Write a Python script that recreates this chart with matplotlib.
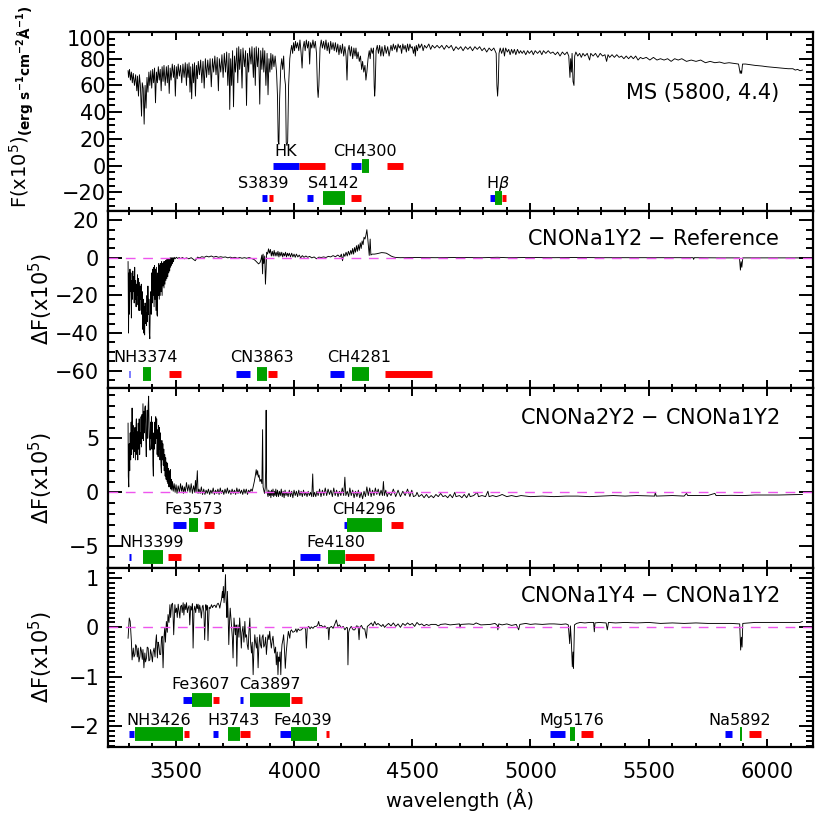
import matplotlib
matplotlib.use("Agg")
import matplotlib.pyplot as plt
from matplotlib.ticker import MultipleLocator
from matplotlib.transforms import ScaledTranslation

# ---------------- data ----------------
# top panel: MS (5800, 4.4) model flux, (wavelength, F x1e5)
ms_spec = [
    (3298, 71), (3300, 66), (3304, 72), (3308, 64), (3312, 70), (3316, 62), (3320, 69), (3325, 60),
    (3330, 68), (3335, 56), (3338, 67), (3342, 52), (3346, 68), (3350, 60), (3355, 37), (3358, 62),
    (3362, 58), (3366, 31), (3370, 60), (3374, 43), (3378, 66), (3382, 55), (3386, 70), (3390, 60),
    (3394, 71), (3398, 58), (3402, 72), (3406, 62), (3410, 73), (3414, 47), (3418, 70), (3422, 62),
    (3426, 74), (3430, 64), (3434, 72), (3438, 56), (3442, 74), (3446, 63), (3450, 75), (3455, 60),
    (3460, 74), (3464, 62), (3468, 75), (3472, 54), (3476, 73), (3480, 64), (3485, 76), (3490, 66),
    (3494, 75), (3498, 52), (3502, 74), (3506, 65), (3510, 76), (3515, 67), (3520, 75), (3525, 62),
    (3530, 76), (3535, 66), (3540, 77), (3545, 60), (3548, 76), (3552, 66), (3556, 77), (3560, 55),
    (3563, 74), (3567, 50), (3571, 76), (3575, 62), (3579, 77), (3583, 52), (3587, 75), (3591, 65),
    (3595, 78), (3600, 68), (3605, 79), (3610, 62), (3615, 78), (3620, 58), (3625, 80), (3630, 66),
    (3635, 79), (3640, 68), (3645, 80), (3650, 59), (3655, 80), (3660, 70), (3665, 82), (3670, 68),
    (3675, 81), (3680, 56), (3684, 80), (3690, 70), (3695, 83), (3700, 66), (3705, 84), (3710, 70),
    (3715, 85), (3720, 60), (3725, 84), (3728, 42), (3732, 80), (3736, 60), (3740, 86), (3744, 44),
    (3748, 82), (3752, 70), (3758, 88), (3762, 62), (3766, 89), (3770, 72), (3775, 87), (3780, 58),
    (3784, 88), (3790, 74), (3795, 86), (3799, 45), (3803, 84), (3808, 70), (3812, 88), (3818, 76),
    (3822, 89), (3828, 66), (3832, 88), (3836, 60), (3840, 89), (3845, 74), (3850, 88), (3855, 46),
    (3859, 86), (3864, 72), (3868, 88), (3872, 70), (3876, 86), (3881, 60), (3886, 84), (3890, 53),
    (3894, 80), (3898, 70), (3902, 84), (3906, 72), (3910, 83), (3915, 74), (3920, 82), (3926, 70),
    (3930, 52), (3933, 18), (3936, 16), (3939, 50), (3944, 74), (3948, 80), (3952, 72), (3956, 82),
    (3960, 66), (3964, 60), (3967, 17), (3970, 15), (3973, 18), (3977, 60), (3982, 80), (3986, 86),
    (3990, 90), (3994, 84), (3998, 92), (4002, 86), (4006, 93), (4010, 88), (4015, 92), (4020, 86),
    (4025, 94), (4030, 84), (4034, 73), (4038, 88), (4043, 93), (4047, 86), (4052, 94), (4057, 88),
    (4062, 93), (4066, 76), (4070, 92), (4075, 88), (4080, 94), (4085, 88), (4090, 93), (4095, 84),
    (4099, 58), (4102, 51), (4105, 60), (4110, 88), (4115, 94), (4120, 88), (4125, 93), (4130, 87),
    (4135, 94), (4140, 86), (4145, 92), (4150, 84), (4155, 93), (4160, 87), (4165, 92), (4170, 86),
    (4175, 92), (4180, 85), (4185, 91), (4190, 83), (4195, 90), (4200, 84), (4205, 91), (4210, 82),
    (4215, 89), (4220, 82), (4224, 64), (4228, 86), (4233, 90), (4238, 82), (4243, 89), (4248, 80),
    (4253, 88), (4258, 82), (4262, 88), (4266, 80), (4271, 85), (4276, 78), (4281, 82), (4286, 72),
    (4290, 78), (4295, 70), (4300, 75), (4304, 64), (4308, 70), (4313, 80), (4318, 86), (4322, 80),
    (4326, 88), (4331, 84), (4336, 88), (4339, 60), (4341, 52), (4343, 58), (4347, 86), (4352, 90),
    (4357, 84), (4362, 90), (4367, 82), (4372, 89), (4378, 82), (4384, 90), (4390, 84), (4396, 89),
    (4402, 82), (4410, 90), (4415, 86), (4420, 91), (4425, 87), (4430, 90), (4435, 85), (4440, 91),
    (4445, 88), (4450, 90), (4455, 84), (4460, 91), (4465, 87), (4470, 90), (4475, 85), (4480, 91),
    (4485, 86), (4490, 91), (4495, 88), (4500, 89), (4505, 84), (4510, 89), (4513, 82), (4517, 90),
    (4522, 86), (4527, 91), (4532, 88), (4540, 91), (4546, 86), (4552, 90), (4560, 88), (4570, 91),
    (4578, 87), (4585, 90), (4595, 88), (4605, 90), (4615, 88), (4625, 90), (4635, 87), (4645, 90),
    (4655, 88), (4665, 90), (4675, 86), (4685, 89), (4695, 87), (4705, 89), (4715, 86), (4725, 89),
    (4735, 87), (4745, 89), (4755, 86), (4765, 89), (4775, 87), (4785, 89), (4795, 86), (4805, 88),
    (4815, 85), (4825, 88), (4835, 86), (4845, 88), (4855, 84), (4858, 60), (4861, 52), (4864, 62),
    (4867, 84), (4872, 88), (4878, 84), (4885, 88), (4890, 82), (4895, 88), (4902, 85), (4908, 87),
    (4914, 83), (4920, 87), (4926, 84), (4932, 87), (4938, 83), (4945, 87), (4952, 84), (4958, 86),
    (4965, 84), (4972, 86), (4980, 83), (4988, 86), (4995, 84), (5005, 86), (5012, 83), (5020, 86),
    (5030, 84), (5040, 86), (5048, 83), (5055, 86), (5065, 84), (5075, 86), (5085, 84), (5095, 85),
    (5105, 83), (5115, 85), (5125, 82), (5135, 85), (5145, 83), (5155, 85), (5162, 82), (5167, 66),
    (5170, 80), (5173, 70), (5176, 84), (5180, 63), (5184, 60), (5187, 82), (5192, 85), (5200, 82),
    (5208, 84), (5215, 81), (5222, 84), (5230, 82), (5240, 84), (5250, 79), (5255, 84), (5265, 82),
    (5275, 84), (5285, 81), (5295, 84), (5305, 82), (5315, 83), (5322, 78), (5328, 83), (5335, 81),
    (5345, 83), (5355, 81), (5365, 83), (5375, 81), (5385, 82), (5395, 80), (5405, 82), (5415, 80),
    (5425, 82), (5435, 80), (5445, 82), (5455, 79), (5465, 81), (5475, 80), (5490, 81), (5505, 79),
    (5520, 81), (5535, 79), (5550, 80), (5565, 79), (5580, 80), (5595, 78), (5610, 80), (5625, 79),
    (5640, 80), (5660, 78), (5680, 79), (5700, 78), (5720, 79), (5740, 77), (5760, 78), (5780, 77),
    (5800, 77.5), (5820, 76.5), (5840, 77), (5860, 76.5), (5880, 76), (5887, 69), (5890, 71),
    (5893, 69), (5897, 76), (5910, 76), (5930, 75.5), (5950, 75), (5980, 74.5), (6000, 74),
    (6030, 73.5), (6060, 73), (6090, 72.5), (6110, 72.5), (6120, 71.5), (6130, 72), (6140, 71),
    (6150, 71.5),
]

# CNONa1Y2 - Reference
d1_spec = [
    (3298, -2), (3300, -40), (3302, -8), (3304, -30), (3306, -6), (3308, -18), (3310, -8), (3312, -32),
    (3314, -12), (3316, -22), (3318, -7), (3320, -18), (3322, -10), (3324, -24), (3326, -5), (3328, -22),
    (3330, -12), (3332, -26), (3334, -14), (3336, -20), (3338, -9), (3340, -25), (3342, -11), (3344, -28),
    (3346, -13), (3348, -28), (3350, -15), (3352, -22), (3354, -14), (3356, -30), (3358, -18), (3360, -38),
    (3362, -22), (3364, -40), (3366, -26), (3368, -41), (3370, -24), (3372, -35), (3374, -29), (3376, -36),
    (3378, -20), (3380, -34), (3382, -15), (3384, -30), (3386, -22), (3388, -40), (3390, -43), (3392, -25),
    (3394, -18), (3396, -30), (3398, -8), (3400, -24), (3402, -6), (3404, -20), (3406, -5), (3408, -26),
    (3410, -4), (3412, -22), (3414, -6), (3416, -28), (3418, -5), (3420, -30), (3422, -31), (3424, -8),
    (3426, -20), (3428, -3), (3430, -22), (3432, -4), (3434, -20), (3436, -3), (3438, -18), (3440, -2),
    (3442, -20), (3444, -3), (3446, -15), (3448, -2), (3450, -16), (3452, -2), (3454, -14), (3456, -1.5),
    (3458, -12), (3460, -1), (3462, -11), (3464, -1), (3466, -10), (3468, -0.5), (3470, -8), (3472, -0.5),
    (3474, -7), (3476, 0), (3478, -5), (3480, 0), (3482, -4), (3484, 0), (3486, -3), (3488, 0),
    (3490, -2), (3493, 0.3), (3497, -0.5), (3502, 0.3), (3508, -0.3), (3514, 0.2), (3520, -0.4),
    (3528, 0.2), (3536, -0.5), (3545, 0), (3555, -0.5), (3565, 0.1), (3575, -0.8), (3582, -1.5),
    (3587, -0.5), (3592, 0.4), (3600, 0), (3610, 0.6), (3620, 0.3), (3630, 0.9), (3640, 0.5),
    (3650, 1), (3660, 0.4), (3670, 0.8), (3680, 0.3), (3690, 0.6), (3700, 0.3), (3710, 0.5),
    (3720, 0), (3730, 0.4), (3740, 0), (3750, 0.3), (3760, -0.2), (3770, 0.2), (3780, -0.2),
    (3790, 0.1), (3800, -0.2), (3810, 0.2), (3820, -0.3), (3830, -0.8), (3836, -1.4), (3843, -2.3),
    (3850, -3.2), (3856, -2.5), (3860, -1), (3864, 1.5), (3867, -8.5), (3869, 2), (3872, -3),
    (3876, 1), (3879, -14), (3882, -6), (3884, 3), (3888, 2), (3892, 4.8), (3896, 2.5), (3900, 4.5),
    (3904, 1), (3908, 3.5), (3912, 1), (3916, 4), (3920, 1), (3924, 3), (3928, 1), (3932, 3.5),
    (3936, 0.5), (3940, 3), (3944, 1), (3948, 3), (3952, 0.5), (3956, 2.5), (3960, 1), (3964, 3),
    (3968, 0.5), (3972, 2.5), (3976, 1), (3980, 2.5), (3985, 0.5), (3990, 2.5), (3995, 0.5),
    (4000, 2), (4005, 0.3), (4010, 2), (4016, 0.5), (4022, 1.5), (4028, 0), (4035, 1.2), (4042, 0.3),
    (4050, 1), (4058, 0.3), (4066, 0.8), (4075, 0), (4085, 0.5), (4095, -0.5), (4105, 0.4),
    (4115, 0.2), (4125, 0.5), (4135, 0.2), (4145, 0.8), (4155, 0.5), (4165, 1.2), (4175, 0.6),
    (4185, 1.5), (4195, 0.5), (4200, 2), (4205, -1.5), (4210, 2.2), (4215, 0.8), (4220, 3),
    (4225, 1), (4230, 3.5), (4235, 1.5), (4240, 4), (4244, 2), (4248, 5), (4252, 2), (4256, 5.5),
    (4260, 3), (4264, 6.5), (4268, 3.5), (4272, 7), (4276, 4), (4280, 8), (4284, 5), (4288, 9),
    (4292, 7), (4296, 11), (4300, 10), (4304, 12), (4308, 15), (4312, 10), (4318, 1.3), (4322, 10),
    (4325, 1.5), (4330, 2), (4340, 2), (4350, 2.2), (4360, 2.5), (4370, 2.8), (4380, 2.7),
    (4390, 2.5), (4400, 1.8), (4410, 1), (4420, 0.5), (4430, 0.2), (4450, 0.1), (4500, 0.2),
    (4600, 0.1), (4700, 0.2), (4800, 0.1), (4860, 0.3), (4900, 0.1), (5000, 0.2), (5100, 0.1),
    (5200, 0.2), (5300, 0.1), (5400, 0.1), (5500, 0.1), (5600, 0.1), (5688, 0.1), (5690, -0.8),
    (5693, 0.1), (5800, 0.0), (5884, 0), (5888, -6.5), (5891, -2), (5894, -5), (5898, 0),
    (6000, 0.0), (6150, 0),
]

# CNONa2Y2 - CNONa1Y2
d2_spec = [
    (3298, 6.4), (3299, 1.5), (3301, 0.5), (3303, 4.5), (3305, 2.0), (3307, 5.5), (3309, 3.0),
    (3311, 6.5), (3313, 3.5), (3315, 7.8), (3317, 4.0), (3319, 6.2), (3321, 3.2), (3323, 5.5),
    (3325, 3.8), (3327, 6.0), (3329, 3.0), (3331, 5.8), (3333, 6.8), (3335, 3.5), (3337, 5.6),
    (3339, 3.0), (3341, 6.4), (3343, 4.0), (3345, 6.8), (3347, 3.5), (3349, 5.5), (3351, 4.5),
    (3353, 7.0), (3355, 4.2), (3357, 7.2), (3359, 5.0), (3361, 8.2), (3363, 4.8), (3365, 7.5),
    (3367, 5.5), (3369, 7.8), (3371, 8.0), (3373, 4.8), (3375, 3.3), (3377, 6.5), (3379, 7.6),
    (3381, 5.0), (3383, 8.0), (3385, 8.9), (3387, 6.0), (3389, 4.5), (3391, 3.9), (3393, 6.5),
    (3395, 5.0), (3397, 7.0), (3399, 4.0), (3401, 6.5), (3403, 2.5), (3405, 1.5), (3407, 5.5),
    (3409, 4.0), (3411, 6.5), (3413, 4.5), (3415, 7.0), (3417, 5.0), (3419, 6.8), (3421, 3.5),
    (3423, 5.8), (3425, 3.3), (3427, 6.2), (3429, 4.0), (3431, 6.0), (3433, 3.0), (3435, 5.5),
    (3437, 2.5), (3439, 1.8), (3441, 4.8), (3443, 3.0), (3445, 4.5), (3447, 2.5), (3449, 4.0),
    (3451, 2.0), (3453, 3.5), (3455, 1.5), (3457, 3.2), (3459, 1.2), (3461, 2.8), (3463, 1.0),
    (3465, 2.7), (3467, 0.8), (3469, 2.2), (3471, 0.5), (3473, 2.0), (3475, 0.5), (3477, 2.1),
    (3479, 0.3), (3481, 1.2), (3483, 0.2), (3486, 1.0), (3489, 0.1), (3493, 0.8), (3497, 0.0),
    (3501, 0.7), (3505, -0.1), (3510, 0.6), (3515, 0.0), (3520, 0.8), (3524, 0.1), (3528, 0.6),
    (3532, -0.1), (3536, 0.5), (3540, 0.0), (3545, 0.9), (3550, 0.1), (3555, 0.7), (3560, 0.0),
    (3565, 0.8), (3570, -0.1), (3575, 0.6), (3580, 0.0), (3583, 1.1), (3586, 0.0), (3591, 2.0),
    (3594, -0.1), (3598, 0.3), (3603, -0.1), (3608, 0.5), (3613, -0.2), (3618, 0.3), (3623, -0.2),
    (3628, 0.2), (3633, -0.1), (3638, 0.3), (3643, -0.2), (3648, 0.2), (3653, -0.1), (3658, 0.4),
    (3663, -0.2), (3668, 0.2), (3673, -0.1), (3678, 0.3), (3683, -0.2), (3688, 0.4), (3693, -0.1),
    (3698, 0.2), (3703, -0.2), (3708, 0.3), (3713, -0.1), (3718, 0.4), (3723, -0.1), (3728, 0.2),
    (3733, -0.2), (3738, 0.3), (3743, -0.1), (3748, 0.2), (3753, -0.2), (3758, 0.4), (3763, -0.1),
    (3768, 0.3), (3773, -0.1), (3778, 0.2), (3783, -0.2), (3788, 0.3), (3793, -0.1), (3798, 0.3),
    (3803, -0.2), (3808, 0.2), (3813, 0.0), (3818, 0.3), (3823, 0.1), (3827, 0.5), (3832, 1.0),
    (3836, 1.5), (3840, 2.1), (3843, 1.6), (3846, 2.0), (3849, 1.4), (3852, 1.6), (3856, 1.0),
    (3860, 1.2), (3864, 0.8), (3867, 5.8), (3869, 0.5), (3872, 0.2), (3875, -0.1), (3878, 0.4),
    (3880, 2.0), (3882, 7.6), (3884, 0.5), (3887, -0.1), (3890, -0.4), (3893, 0.2), (3896, -0.3),
    (3899, 0.1), (3902, -0.5), (3905, 0.2), (3908, -0.3), (3911, 0.3), (3914, -0.4), (3917, 0.1),
    (3920, -0.3), (3923, 0.3), (3926, -0.4), (3930, 0.2), (3934, -0.4), (3938, 0.1), (3942, -0.3),
    (3946, 0.3), (3950, -0.4), (3954, 0.1), (3958, -0.5), (3962, 0.2), (3966, -0.3), (3970, 0.0),
    (3975, -0.4), (3980, 0.2), (3985, -0.4), (3990, 0.1), (3995, -0.5), (4000, 0.2), (4005, -0.3),
    (4010, 0.1), (4015, -0.4), (4020, 0.2), (4025, -0.3), (4030, 0.1), (4035, -0.4), (4040, 0.2),
    (4045, -0.3), (4050, 0.0), (4055, -0.4), (4060, 0.1), (4065, -0.3), (4070, 0.0), (4075, -0.4),
    (4079, 1.7), (4082, -0.4), (4087, 0.0), (4092, -0.4), (4097, 0.1), (4102, -0.3), (4108, 0.3),
    (4114, -0.4), (4120, 0.2), (4126, -0.3), (4132, 0.4), (4138, -0.3), (4144, 0.3), (4150, -0.2),
    (4156, 0.2), (4162, -0.4), (4168, 0.4), (4174, -0.3), (4180, 0.2), (4186, -0.4), (4192, 0.1),
    (4198, -0.3), (4204, 0.4), (4210, -0.3), (4215, 1.4), (4219, -0.3), (4225, 0.1), (4231, -0.4),
    (4236, 0.4), (4242, -0.3), (4248, 0.2), (4254, -0.5), (4260, 0.1), (4266, -0.4), (4272, 0.2),
    (4278, -0.5), (4284, 0.0), (4290, -0.6), (4296, 0.1), (4302, -0.4), (4308, 0.5), (4314, -0.3),
    (4320, 0.4), (4326, -0.4), (4332, 0.2), (4338, -0.3), (4344, 0.4), (4350, -0.2), (4356, 0.3),
    (4362, -0.3), (4368, 0.2), (4374, -0.3), (4378, 1.0), (4382, -0.3), (4388, 0.2), (4394, -0.4),
    (4400, 0.0), (4410, -0.3), (4420, 0.3), (4430, -0.4), (4440, 0.2), (4450, -0.4), (4460, 0.1),
    (4470, -0.3), (4480, 0.3), (4490, -0.4), (4498, 0.2), (4505, -0.4), (4515, -0.3), (4520, 0.0),
    (4528, -0.4), (4540, -0.2), (4550, -0.5), (4560, -0.2), (4570, -0.5), (4580, -0.3),
    (4590, -0.5), (4600, -0.2), (4610, -0.4), (4620, -0.1), (4630, -0.4), (4640, -0.3),
    (4650, -0.5), (4660, -0.2), (4670, -0.5), (4680, 0.0), (4685, -0.4), (4700, -0.3),
    (4710, -0.5), (4720, -0.2), (4730, -0.5), (4740, -0.1), (4745, -0.4), (4760, -0.3),
    (4775, 0.0), (4780, -0.4), (4795, -0.3), (4810, -0.4), (4820, 0.1), (4825, -0.4),
    (4840, -0.3), (4855, -0.4), (4870, -0.3), (4880, -0.2), (4900, -0.4), (4920, -0.3),
    (4940, -0.4), (4960, -0.3), (5000, -0.4), (5050, -0.35), (5100, -0.4), (5150, -0.35),
    (5200, -0.35), (5250, -0.4), (5300, -0.35), (5350, -0.3), (5400, -0.35), (5450, -0.3),
    (5525, -0.35), (5528, 0.0), (5532, -0.35), (5600, -0.3), (5650, -0.35), (5660, -0.1),
    (5665, -0.3), (5750, -0.3), (5780, -0.1), (5785, -0.3), (5850, -0.28), (5900, -0.3),
    (5950, -0.25), (6050, -0.25), (6150, -0.2),
]

# CNONa1Y4 - CNONa1Y2
d3_spec = [
    (3298, -0.22), (3303, 0.19), (3307, 0.12), (3312, -0.28), (3315, -0.66), (3320, -0.42),
    (3323, -0.6), (3327, -0.55), (3330, -0.35), (3334, -0.39), (3337, -0.6), (3341, -0.42),
    (3344, -0.7), (3348, -0.59), (3351, -0.4), (3355, -0.49), (3358, -0.65), (3361, -0.45),
    (3365, -0.82), (3369, -0.52), (3372, -0.7), (3376, -0.62), (3379, -0.4), (3383, -0.42),
    (3386, -0.68), (3390, -0.66), (3393, -0.45), (3397, -0.55), (3401, -0.7), (3404, -0.5),
    (3408, -0.42), (3412, -0.6), (3415, -0.3), (3418, -0.15), (3422, -0.62), (3425, -0.3),
    (3428, -0.35), (3432, -0.55), (3436, -0.55), (3439, -0.25), (3442, -0.18), (3446, -0.82),
    (3450, -0.2), (3453, -0.01), (3456, -0.3), (3460, 0.12), (3464, -0.1), (3467, 0.26),
    (3471, 0.1), (3475, 0.46), (3478, 0.2), (3482, 0.46), (3486, 0.49), (3488, 0.3), (3491, -0.15),
    (3496, 0.46), (3499, 0.3), (3503, 0.39), (3506, 0.2), (3510, 0.47), (3513, 0.35), (3517, 0.19),
    (3520, 0.42), (3524, 0.45), (3527, 0.3), (3531, 0.5), (3534, 0.25), (3538, 0.47), (3542, 0.36),
    (3545, 0.5), (3549, 0.3), (3552, 0.39), (3556, 0.44), (3559, 0.05), (3563, 0.43), (3567, 0.35),
    (3570, 0.48), (3573, -0.42), (3577, 0.35), (3580, 0.43), (3584, 0.3), (3588, 0.47), (3591, 0.38),
    (3594, 0.47), (3598, 0.3), (3601, 0.45), (3605, 0.35), (3608, 0.19), (3612, 0.42), (3615, 0.45),
    (3619, 0.3), (3622, -0.25), (3627, 0.46), (3630, 0.35), (3633, 0.44), (3636, -0.27), (3641, 0.41),
    (3645, 0.38), (3651, 0.46), (3655, 0.4), (3660, 0.44), (3665, 0.45), (3670, 0.4), (3675, 0.47),
    (3679, 0.49), (3683, 0.45), (3686, 0.39), (3690, 0.5), (3693, 0.56), (3697, 0.73), (3699, 0.6),
    (3701, 0.83), (3704, 0.5), (3707, 0.7), (3710, 1.07), (3712, 0.6), (3714, 0.43), (3716, 0.2),
    (3718, 0.73), (3721, 0.3), (3724, -0.35), (3727, 0.1), (3730, 0.39), (3733, 0.2), (3735, 0.09),
    (3739, -0.2), (3742, -0.62), (3746, 0.19), (3749, 0.0), (3752, -0.15), (3755, 0.05), (3758, -0.79),
    (3761, -0.1), (3763, 0.05), (3767, -0.2), (3770, 0.19), (3774, -0.1), (3777, -0.42), (3780, -0.1),
    (3784, 0.02), (3788, -0.3), (3792, 0.12), (3795, -0.2), (3799, -0.15), (3802, -0.35), (3806, -0.45),
    (3809, -0.1), (3813, 0.19), (3816, -0.3), (3820, -0.52), (3823, -0.3), (3827, -0.96), (3830, -0.5),
    (3834, -0.15), (3837, -0.3), (3841, -0.42), (3844, -0.2), (3848, -0.82), (3851, -0.4), (3855, -0.15),
    (3858, -0.35), (3862, -0.42), (3865, -0.2), (3869, -0.15), (3872, -0.4), (3876, -0.35), (3880, -0.2),
    (3883, -0.55), (3887, -0.3), (3890, -0.15), (3894, -0.25), (3897, -0.08), (3901, -0.3), (3904, -0.42),
    (3908, -0.25), (3911, -0.18), (3915, -0.4), (3918, -0.52), (3922, -0.4), (3925, -0.76), (3929, -0.5),
    (3932, -0.96), (3935, -0.6), (3938, -0.69), (3941, -0.5), (3944, -0.96), (3947, -0.5), (3949, -0.35),
    (3953, -0.25), (3956, -0.15), (3960, -0.5), (3963, -0.83), (3967, -0.5), (3970, -0.35), (3973, -0.2),
    (3976, -0.08), (3979, -0.15), (3982, -0.22), (3985, -0.08), (3989, -0.05), (3995, -0.1), (4003, -0.08),
    (4008, -0.03), (4012, -0.1), (4017, -0.03), (4023, -0.06), (4031, -0.05), (4038, -0.01), (4045, 0.0),
    (4049, -0.05), (4052, -0.42), (4056, -0.01), (4062, 0.02), (4068, -0.03), (4073, 0.01), (4080, -0.02),
    (4087, 0.02), (4094, 0.02), (4100, 0.05), (4104, 0.12), (4108, 0.03), (4116, 0.04), (4123, 0.0),
    (4130, 0.03), (4137, -0.02), (4144, 0.0), (4147, -0.25), (4150, -0.01), (4158, 0.02), (4165, -0.02),
    (4172, 0.06), (4179, 0.15), (4185, 0.02), (4192, 0.05), (4200, -0.01), (4208, 0.02), (4215, -0.05),
    (4222, 0.0), (4226, -0.01), (4228, -0.76), (4231, -0.1), (4235, -0.03), (4242, 0.02), (4250, -0.05),
    (4257, -0.05), (4264, 0.03), (4271, 0.02), (4275, -0.25), (4278, 0.0), (4285, 0.04), (4292, -0.03),
    (4299, -0.03), (4306, -0.22), (4310, 0.02), (4318, 0.05), (4327, 0.09), (4334, 0.03), (4341, 0.12),
    (4348, 0.05), (4355, 0.08), (4362, 0.05), (4370, 0.02), (4376, 0.06), (4383, 0.0), (4390, 0.04),
    (4400, 0.08), (4410, 0.03), (4420, 0.09), (4430, 0.02), (4440, 0.07), (4450, 0.0), (4460, 0.08),
    (4470, 0.04), (4480, 0.09), (4490, 0.05), (4500, 0.08), (4510, 0.02), (4520, 0.10), (4530, 0.05),
    (4540, 0.07), (4550, 0.03), (4560, 0.06), (4570, 0.04), (4580, 0.06), (4600, 0.06), (4610, 0.03),
    (4620, 0.06), (4640, 0.07), (4660, 0.05), (4700, 0.07), (4702, -0.01), (4705, 0.06), (4740, 0.07),
    (4760, 0.06), (4770, 0.09), (4790, 0.05), (4830, 0.06), (4850, 0.08), (4860, 0.04), (4862, -0.05),
    (4866, 0.07), (4880, 0.05), (4900, 0.07), (4920, 0.04), (4940, 0.06), (4950, -0.05), (4955, 0.06),
    (4980, 0.08), (5000, 0.06), (5020, 0.07), (5050, 0.06), (5080, 0.07), (5100, 0.07), (5130, 0.06),
    (5150, 0.07), (5160, 0.05), (5166, -0.33), (5169, 0.03), (5173, -0.3), (5177, -0.80), (5180, -0.5),
    (5182, -0.83), (5186, 0.05), (5195, 0.08), (5210, 0.1), (5230, 0.09), (5250, 0.1), (5267, 0.1),
    (5270, -0.09), (5273, 0.09), (5290, 0.1), (5320, 0.09), (5325, -0.05), (5330, 0.1), (5360, 0.09),
    (5400, 0.1), (5450, 0.09), (5500, 0.1), (5550, 0.08), (5600, 0.09), (5650, 0.08), (5700, 0.09),
    (5750, 0.08), (5800, 0.08), (5850, 0.08), (5885, 0.07), (5889, -0.46), (5892, -0.2), (5895, -0.40),
    (5898, 0.08), (5950, 0.1), (6000, 0.1), (6050, 0.1), (6100, 0.1), (6140, 0.1), (6150, 0.12),
]

panel_titles = ["MS (5800, 4.4)", "CNONa1Y2 $-$ Reference",
                "CNONa2Y2 $-$ CNONa1Y2", "CNONa1Y4 $-$ CNONa1Y2"]

# index bands: name, label x, label y, bar y, blue / green / red passbands (Angstrom)
p1_names = ["HK", "CH4300", "S3839", "S4142", r"H$\beta$"]
p1_lab_x = [3964, 4299, 3871, 4165, 4862]
p1_lab_y = [6.8, 6.8, -17, -17, -17]
p1_bar_y = [0, 0, -24.5, -24.5, -24.5]
p1_blue = [(3912, 4021), (4241, 4283), (3863, 3887), (4056, 4082), (4829, 4850)]
p1_green = [None, (4286, 4316), None, (4124, 4217), (4850, 4878)]
p1_red = [(4021, 4131), (4392, 4462), (3896, 3913), (4241, 4282), (4878, 4895)]

p2_names = ["NH3374", "CN3863", "CH4281"]
p2_lab_x = [3374, 3863, 4275]
p2_lab_y = [-55.3, -55.3, -55.3]
p2_bar_y = [-62, -62, -62]
p2_blue = [(3300, 3308), (3754, 3814), (4152, 4211)]
p2_green = [(3360, 3396), (3845, 3885), (4246, 4316)]
p2_red = [(3470, 3522), (3889, 3930), (4385, 4582)]

p3_names = ["Fe3573", "CH4296", "NH3399", "Fe4180"]
p3_lab_x = [3574, 4294, 3398, 4179]
p3_lab_y = [-2.05, -2.05, -5.1, -5.1]
p3_bar_y = [-3.03, -3.03, -6.02, -6.02]
p3_blue = [(3486, 3544), (4211, 4223), (3300, 3310), (4027, 4110)]
p3_green = [(3557, 3593), (4223, 4373), (3360, 3445), (4145, 4217)]
p3_red = [(3618, 3661), (4410, 4462), (3465, 3521), (4217, 4338)]

p4_names = ["Fe3607", "Ca3897", "NH3426", "H3743", "Fe4039", "Mg5176", "Na5892"]
p4_lab_x = [3606, 3898, 3427, 3743, 4038, 5174, 5884]
p4_lab_y = [-1.25, -1.25, -1.97, -1.97, -1.97, -1.97, -1.97]
p4_bar_y = [-1.47, -1.47, -2.17, -2.17, -2.17, -2.17, -2.17]
p4_blue = [(3532, 3568), (3772, 3783), (3300, 3321), (3659, 3678), (3941, 3986), (5081, 5144), (5822, 5854)]
p4_green = [(3568, 3652), (3815, 3983), (3328, 3530), (3720, 3772), (3986, 4096), (5167, 5187), (5885, 5896)]
p4_red = [(3659, 3682), (3986, 4033), (3535, 3556), (3772, 3814), (4134, 4148), (5212, 5265), (5923, 5977)]

# ---------------- figure ----------------
plt.rcParams["font.family"] = "DejaVu Sans"
plt.rcParams["mathtext.fontset"] = "dejavusans"

W = 830.0
fig = plt.figure(figsize=(8.3, 8.3), dpi=100)
tops = [32, 210.7, 388.3, 567.7]
bots = [210.7, 388.3, 567.7, 746.7]
left_px, right_px = 107.5, 813.0
axes = []
for t, b in zip(tops, bots):
    ax = fig.add_axes([left_px / W, 1 - b / W, (right_px - left_px) / W, (b - t) / W])
    axes.append(ax)

XLIM = (3211, 6195)
ylims = [(-33.8, 100), (-69.4, 25.1), (-6.98, 9.63), (-2.42, 1.21)]
ymajor = [20, 20, 5, 1]
yminor = [5, 5, 1, 0.1]
title_y = [0.623, 0.807, 0.80, 0.807]
specs = [ms_spec, d1_spec, d2_spec, d3_spec]
bands = [
    (p1_names, p1_lab_x, p1_lab_y, p1_bar_y, p1_blue, p1_green, p1_red),
    (p2_names, p2_lab_x, p2_lab_y, p2_bar_y, p2_blue, p2_green, p2_red),
    (p3_names, p3_lab_x, p3_lab_y, p3_bar_y, p3_blue, p3_green, p3_red),
    (p4_names, p4_lab_x, p4_lab_y, p4_bar_y, p4_blue, p4_green, p4_red),
]
ylabels = [r"F(x10$^5$)$_{\mathbf{(erg\ s^{-1}cm^{-2}\AA^{-1})}}$",
           r"$\Delta$F(x10$^5$)", r"$\Delta$F(x10$^5$)", r"$\Delta$F(x10$^5$)"]

BLUE, GREEN, RED = "#0000ff", "#00a000", "#ff0000"

for i, ax in enumerate(axes):
    wave, flux = zip(*specs[i])
    ax.plot(wave, flux, color="black", lw=0.65)
    if i > 0:
        ax.axhline(0, color="#ee55ee", lw=1.0, dashes=(7, 5.5))

    names, lx, ly, by, blue, green, red = bands[i]
    for k in range(len(names)):
        for rng, col, lw in ((blue[k], BLUE, 5), (red[k], RED, 5), (green[k], GREEN, 10)):
            if rng is not None:
                ax.plot(rng, [by[k], by[k]], color=col, lw=lw, solid_capstyle="butt")
        ax.text(lx[k], ly[k], names[k], ha="center", va="baseline", fontsize=11.5)

    ax.text(0.952, title_y[i], panel_titles[i], transform=ax.transAxes,
            ha="right", va="baseline", fontsize=15)

    ax.set_xlim(*XLIM)
    ax.set_ylim(*ylims[i])
    ax.xaxis.set_major_locator(MultipleLocator(500))
    ax.xaxis.set_minor_locator(MultipleLocator(100))
    ax.yaxis.set_major_locator(MultipleLocator(ymajor[i]))
    ax.yaxis.set_minor_locator(MultipleLocator(yminor[i]))
    ax.tick_params(axis="both", which="both", direction="in", top=True, right=True, width=1.4)
    ax.tick_params(axis="y", which="major", length=10, labelsize=15, pad=1 if i == 0 else 6)
    ax.tick_params(axis="y", which="minor", length=5)
    ax.tick_params(axis="x", which="major", length=6, labelsize=15, pad=11)
    ax.tick_params(axis="x", which="minor", length=3)
    for sp in ax.spines.values():
        sp.set_linewidth(1.6)
    if i < 3:
        ax.tick_params(axis="x", labelbottom=False)

    ax.set_ylabel(ylabels[i], fontsize=15 if i > 0 else 14)
    if i == 0:
        ax.yaxis.set_label_coords(-0.102, 0.58)
    else:
        ax.yaxis.set_label_coords(-0.074, 0.5)

axes[3].set_xlabel("wavelength (\u00c5)", fontsize=14, labelpad=5)

# the top "100" label sits a little below the frame, as in the original
fig.canvas.draw()
for lbl in axes[0].get_yticklabels():
    if lbl.get_text().strip() == "100":
        lbl.set_transform(lbl.get_transform() + ScaledTranslation(0, -0.06, fig.dpi_scale_trans))

fig.savefig("out.png", dpi=100)
